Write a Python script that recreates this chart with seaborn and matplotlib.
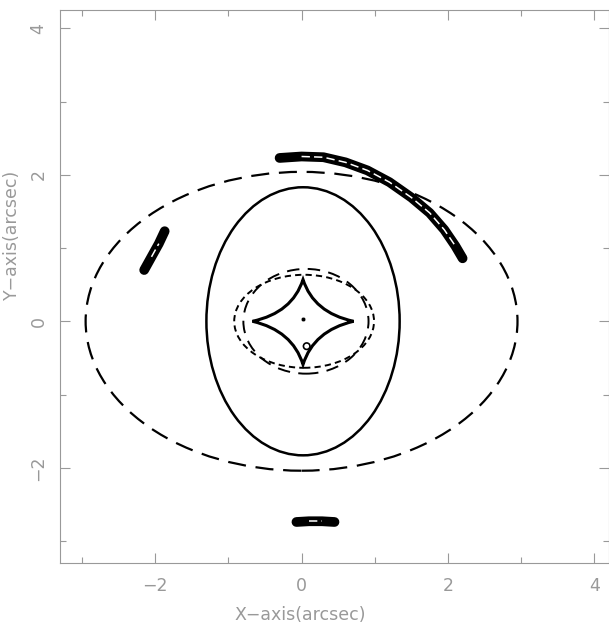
import numpy as np
import pandas as pd
import seaborn as sns
import matplotlib
matplotlib.use('Agg')
import matplotlib.pyplot as plt
from matplotlib.patches import Ellipse, PathPatch
from matplotlib.path import Path

sns.set_style('ticks')
plt.rcParams['font.family'] = ['DejaVu Sans']
plt.rcParams['lines.scale_dashes'] = False

# ellipses: (x0, y0, half-width, half-height)
outer_dashed = (0.0, 0.0, 2.95, 2.04)
solid_curve = (0.02, 0.0, 1.32, 1.83)
inner_short = (0.035, 0.0, 0.955, 0.635)
inner_long = (0.06, 0.0, 0.855, 0.715)

# astroid cusps: right, top, left, bottom
cusp_x = [0.71, 0.02, -0.67, 0.02]
cusp_y = [0.0, 0.57, 0.0, -0.59]

# lensed images (centre lines)
arc_x = [-0.30, 0.0, 0.30, 0.60, 0.90, 1.20, 1.50, 1.75, 1.95, 2.10, 2.20]
arc_y = [2.23, 2.25, 2.24, 2.17, 2.06, 1.90, 1.69, 1.48, 1.25, 1.03, 0.86]
left_x = [-2.15, -2.05, -1.95, -1.87]
left_y = [0.70, 0.88, 1.06, 1.23]
bottom_x = [-0.07, 0.10, 0.28, 0.45]
bottom_y = [-2.74, -2.73, -2.73, -2.74]

# source positions
src_x = [0.02, 0.07]
src_y = [0.03, -0.34]

fig = plt.figure(figsize=(6.09, 6.25), dpi=100)
ax = fig.add_axes([60/609, 1-563/625, 549/609, 553/625])

for (x0, y0, a, b), ls, lw in [(outer_dashed, (0, (13, 7)), 1.6),
                               (solid_curve, '-', 1.8),
                               (inner_short, (0, (4.5, 3)), 1.4),
                               (inner_long, (0, (9, 6)), 1.4)]:
    ax.add_patch(Ellipse((x0, y0), 2*a, 2*b, fill=False, ec='black', lw=lw, ls=ls))

# astroid built from quadratic curves between cusps
cx, cy = np.mean(cusp_x), np.mean(cusp_y)
verts, codes = [], []
for i in range(5):
    j = i % 4
    k = (i - 1) % 4
    if i == 0:
        verts.append((cusp_x[j], cusp_y[j])); codes.append(Path.MOVETO)
        continue
    ctrl = (cx + 0.21*((cusp_x[j]-cx) + (cusp_x[k]-cx)), cy + 0.21*((cusp_y[j]-cy) + (cusp_y[k]-cy)))
    verts += [ctrl, (cusp_x[j], cusp_y[j])]
    codes += [Path.CURVE3, Path.CURVE3]
ax.add_patch(PathPatch(Path(verts, codes), fill=False, ec='black', lw=2.2, joinstyle='miter'))

for xs, ys, w in [(arc_x, arc_y, 7.0), (left_x, left_y, 7.0), (bottom_x, bottom_y, 7.0)]:
    d = pd.DataFrame({'x': xs, 'y': ys})
    sns.lineplot(data=d, x='x', y='y', sort=False, estimator=None, color='black',
                 lw=w, solid_capstyle='round', ax=ax)
    ax.plot(xs[1:-1], ys[1:-1], color='white', lw=1.1, ls=(0, (6, 3)))

sns.scatterplot(x=src_x[:1], y=src_y[:1], color='black', s=10, ax=ax, zorder=5)
ax.scatter(src_x[1:], src_y[1:], s=22, facecolors='none', edgecolors='black', lw=1.2, zorder=5)

ax.set_xlim(-3.3, 4.2)
ax.set_ylim(-3.3, 4.25)
ax.set_xticks([-2, 0, 2, 4])
ax.set_yticks([-2, 0, 2, 4])
ax.set_xticks([-3, -1, 1, 3], minor=True)
ax.set_yticks([-3, -1, 1, 3], minor=True)
ax.tick_params(which='both', direction='in', top=True, right=True, color='#999999', width=0.8)
ax.tick_params(which='major', length=7, labelsize=12.5, labelcolor='#999999')
ax.tick_params(axis='x', which='major', pad=10)
ax.tick_params(axis='y', which='major', pad=9)
ax.tick_params(which='minor', length=4)
for lab in ax.get_yticklabels():
    lab.set_rotation(90)
    lab.set_va('center')
for s in ax.spines.values():
    s.set_color('#999999')
    s.set_linewidth(0.8)

ax.set_xlabel('X\u2212axis(arcsec)', fontsize=12.5, color='#999999', va='center')
ax.set_ylabel('Y\u2212axis(arcsec)', fontsize=12.5, color='#999999', va='center')
ax.xaxis.set_label_coords(0.437, -0.094)
ax.yaxis.set_label_coords(-0.087, 0.593)

fig.savefig('out.png', dpi=100)
